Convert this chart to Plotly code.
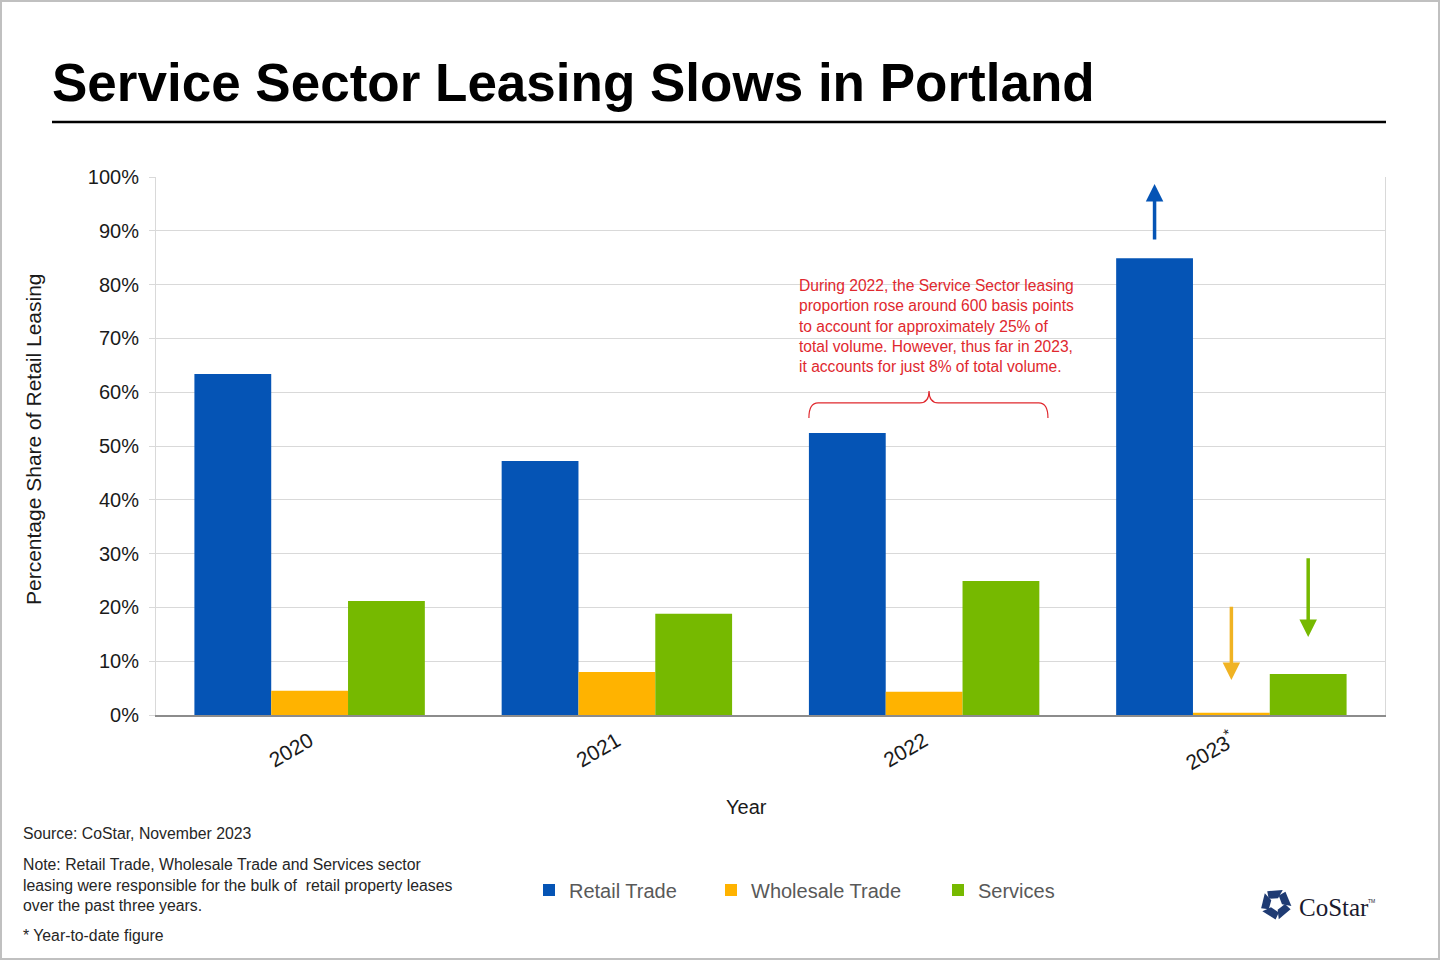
import math
import plotly.graph_objects as go

# ---------------- data ----------------
years = ["2020", "2021", "2022", "2023<sup>*</sup>"]
retail_trade = [63.4, 47.2, 52.4, 84.9]
wholesale_trade = [4.5, 8.0, 4.3, 0.4]
services = [21.2, 18.8, 24.9, 7.6]
series_names = ["Retail Trade", "Wholesale Trade", "Services"]
y_ticks = [0, 10, 20, 30, 40, 50, 60, 70, 80, 90, 100]
y_tick_labels = ["0%", "10%", "20%", "30%", "40%", "50%", "60%", "70%", "80%", "90%", "100%"]

BLUE = "#0554B5"
YELLOW = "#FFB300"
GREEN = "#76B900"
RED = "#E0282E"
FONT = "Liberation Sans, Arial, sans-serif"

W, H = 1440, 960
ML, MR, MT, MB = 156, 55, 177, 245
PW, PH = W - ML - MR, H - MT - MB


def px(x):
    return (x - ML) / PW


def py(y):
    return (H - MB - y) / PH


xidx = list(range(len(years)))

fig = go.Figure()
legend_ids = ["legend", "legend2", "legend3"]
legend_x = [529, 711, 938]
for name, vals, col, lid in zip(series_names, [retail_trade, wholesale_trade, services],
                                [BLUE, YELLOW, GREEN], legend_ids):
    fig.add_trace(go.Bar(x=xidx, y=vals, name=name, legend=lid,
                         marker=dict(color=col, line=dict(width=0))))

legend_style = dict(orientation="h", xanchor="left", y=py(890), yanchor="middle",
                    font=dict(family=FONT, size=20, color="#595959"), bgcolor="rgba(0,0,0,0)",
                    itemwidth=30)

fig.update_layout(
    width=W, height=H,
    margin=dict(l=ML, r=MR, t=MT, b=MB, autoexpand=False),
    paper_bgcolor="white", plot_bgcolor="white",
    barmode="group", bargap=0.25, bargroupgap=0,
    font=dict(family=FONT, color="#000000"),
    title=dict(text="<b>Service Sector Leasing Slows in Portland</b>",
               font=dict(family=FONT, size=53, color="#000000"),
               xref="container", x=52 / W, xanchor="left",
               yref="container", y=1 - 82 / H, yanchor="middle"),
    showlegend=True,
    legend=dict(x=px(legend_x[0]), **legend_style),
    legend2=dict(x=px(legend_x[1]), **legend_style),
    legend3=dict(x=px(legend_x[2]), **legend_style),
)

fig.update_xaxes(
    range=[-0.5, len(years) - 0.5],
    tickmode="array", tickvals=xidx, ticktext=years,
    tickangle=-30, tickfont=dict(family=FONT, size=21, color="#1a1a1a"),
    showline=True, linecolor="#8c8c8c", linewidth=1.5,
    showgrid=False, ticks="", zeroline=False, ticklabelstandoff=4,
)
fig.update_yaxes(
    range=[0, 100], tickmode="array", tickvals=y_ticks, ticktext=y_tick_labels,
    tickfont=dict(family=FONT, size=20, color="#1a1a1a"),
    showgrid=True, gridcolor="#d9d9d9", gridwidth=1,
    showline=True, linecolor="#d9d9d9", linewidth=1, mirror=True,
    ticks="outside", ticklen=6, tickcolor="#d9d9d9", zeroline=False,
    ticklabelstandoff=6,
)

annotations = []
# y-axis title
annotations.append(dict(text="Percentage Share of Retail Leasing", xref="paper", yref="paper",
                        x=px(33), y=py(439), textangle=-90, showarrow=False,
                        font=dict(family=FONT, size=21, color="#1a1a1a"),
                        xanchor="center", yanchor="middle"))
# x-axis title
annotations.append(dict(text="Year", xref="paper", yref="paper", x=px(746), y=py(807),
                        showarrow=False, font=dict(family=FONT, size=20, color="#1a1a1a"),
                        xanchor="center", yanchor="middle"))
# red commentary
annotations.append(dict(
    text=("During 2022, the Service Sector leasing<br>proportion rose around 600 basis points<br>"
          "to account for approximately 25% of<br>total volume. However, thus far in 2023,<br>"
          "it accounts for just 8% of total volume."),
    xref="paper", yref="paper", x=px(797), y=py(326), xanchor="left", yanchor="middle",
    align="left", showarrow=False, font=dict(family=FONT, size=15.6, color=RED)))
# arrows on 2023
for xa, y_tip, y_tail, col in [(2.75, 98.7, 88.1, BLUE), (3.0, 6.5, 20.4, "#F0B323"), (3.25, 14.5, 29.4, GREEN)]:
    annotations.append(dict(text="", x=xa, y=y_tip, ax=xa, ay=y_tail, xref="x", yref="y",
                            axref="x", ayref="y", showarrow=True, arrowhead=2, arrowsize=1,
                            arrowwidth=3.5, arrowcolor=col, standoff=0, startstandoff=0))
# footnotes
foot = dict(xref="paper", yref="paper", showarrow=False, xanchor="left", yanchor="middle",
            align="left", font=dict(family=FONT, size=15.8, color="#262626"))
annotations.append(dict(text="Source: CoStar, November 2023", x=px(21), y=py(834), **foot))
annotations.append(dict(text=("Note: Retail Trade, Wholesale Trade and Services sector<br>"
                              "leasing were responsible for the bulk of  retail property leases<br>"
                              "over the past three years."), x=px(21), y=py(885), **foot))
annotations.append(dict(text="* Year-to-date figure", x=px(21), y=py(935), **foot))
# logo text
annotations.append(dict(text="CoStar", xref="paper", yref="paper", x=px(1297), y=py(907),
                        xanchor="left", yanchor="middle", showarrow=False,
                        font=dict(family="Liberation Serif, DejaVu Serif, serif", size=25, color="#1a1a2e")))
annotations.append(dict(text="TM", xref="paper", yref="paper", x=px(1366), y=py(901),
                        xanchor="left", yanchor="middle", showarrow=False,
                        font=dict(family=FONT, size=5, color="#1a1a2e")))
fig.update_layout(annotations=annotations)

shapes = []
# title rule
shapes.append(dict(type="line", xref="paper", yref="paper", x0=px(52), x1=px(1386), y0=py(122), y1=py(122),
                   line=dict(color="#000000", width=2.5)))
# outer border
shapes.append(dict(type="rect", xref="paper", yref="paper", x0=px(1), x1=px(W - 1), y0=py(H - 1), y1=py(1),
                   line=dict(color="#c0c0c0", width=2)))
# curly bracket over 2022
xl, xr, xm = 1.625, 2.403, 2.016
yb, yh, yp = 55.2, 58.0, 60.2
path = (f"M {xl},{yb} Q {xl},{yh} {xl+0.03},{yh} L {xm-0.03},{yh} Q {xm},{yh} {xm},{yp} "
        f"Q {xm},{yh} {xm+0.03},{yh} L {xr-0.03},{yh} Q {xr},{yh} {xr},{yb}")
shapes.append(dict(type="path", xref="x", yref="y", path=path, line=dict(color=RED, width=1.2)))
# logo icon: pinwheel of five pieces
cx, cy = 1276, 904
R, r = 15.5, 6.0
for k in range(5):
    a = math.radians(90 + 72 * k)
    pts = [
        (cx + r * math.cos(a - 0.35), cy - r * math.sin(a - 0.35)),
        (cx + R * math.cos(a - 0.45), cy - R * math.sin(a - 0.45)),
        (cx + R * math.cos(a + 0.6), cy - R * math.sin(a + 0.6)),
        (cx + (r + 3) * math.cos(a + 0.95), cy - (r + 3) * math.sin(a + 0.95)),
    ]
    p = "M " + " L ".join(f"{px(x):.5f},{py(y):.5f}" for x, y in pts) + " Z"
    shapes.append(dict(type="path", xref="paper", yref="paper", path=p,
                       fillcolor="#1f3b73", line=dict(width=0)))
fig.update_layout(shapes=shapes)

fig.write_html("out.html")
